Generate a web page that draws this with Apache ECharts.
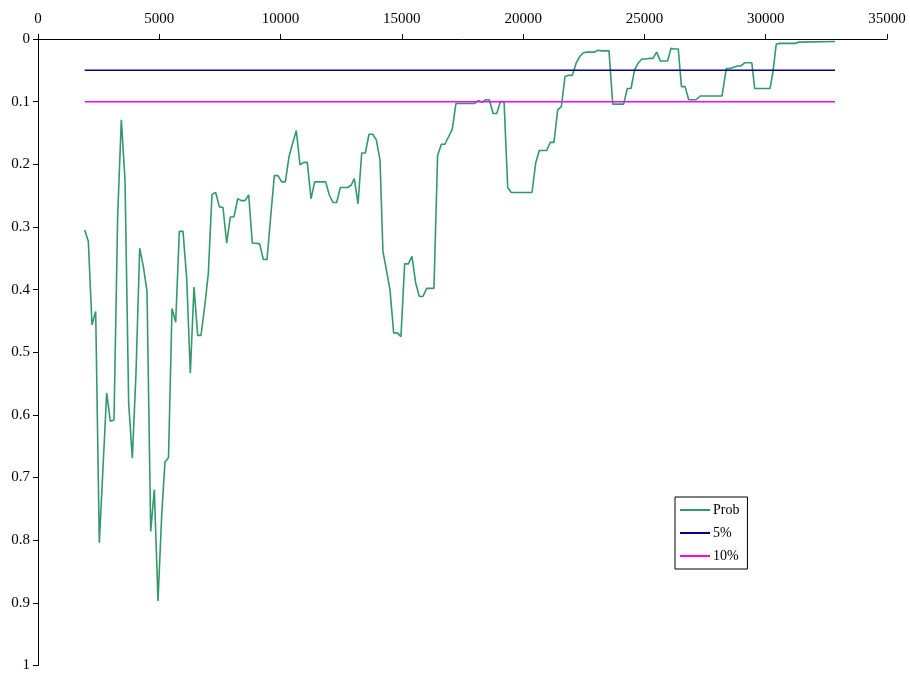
<!DOCTYPE html>
<html>
<head>
<meta charset="utf-8">
<script src="https://cdn.jsdelivr.net/npm/echarts@6/dist/echarts.min.js"></script>
<style>html,body{margin:0;padding:0;background:#fff}#c{width:910px;height:673px}</style>
</head>
<body>
<div id="c"></div>
<script>
const probX = [1925,2075,2226,2378,2528,2831,2981,3133,3285,3435,3587,3738,3888,4040,4192,4342,4494,4646,4795,4947,5100,5234,5380,5524,5676,5827,5978,6130,6280,6431,6584,6720,6872,7022,7173,7326,7476,7627,7780,7929,8080,8233,8383,8534,8687,8836,8988,9140,9289,9441,9594,9743,9894,10047,10196,10347,10500,10649,10801,10953,11102,11254,11407,11556,11708,11860,12009,12161,12313,12463,12614,12767,12916,13040,13193,13345,13494,13646,13798,13947,14099,14220,14360,14510,14662,14814,14963,15115,15267,15416,15568,15720,15869,16021,16173,16322,16474,16626,16775,16927,17079,17228,17380,17530,17680,17830,17990,18158,18304,18458,18609,18759,18911,19061,19213,19364,19513,19665,19815,19965,20115,20365,20517,20666,20818,20970,21119,21271,21424,21575,21725,21878,22027,22179,22331,22481,22633,22786,22935,23087,23239,23388,23540,23693,23843,23993,24143,24294,24447,24596,24748,24900,25049,25201,25353,25502,25654,25804,25954,26094,26245,26395,26526,26676,26826,26976,27126,27296,27446,27596,27746,27896,28046,28196,28377,28527,28677,28827,28977,29127,29277,29427,29546,29727,29877,30027,30177,30300,30432,30583,30733,30883,31033,31207,31360,32857];
const probY = [0.305,0.323,0.456,0.435,0.804,0.565,0.610,0.608,0.281,0.129,0.225,0.581,0.669,0.533,0.334,0.363,0.403,0.786,0.719,0.897,0.76,0.675,0.668,0.430,0.452,0.307,0.307,0.382,0.533,0.396,0.473,0.473,0.427,0.374,0.248,0.245,0.268,0.269,0.326,0.284,0.284,0.255,0.258,0.258,0.249,0.326,0.326,0.327,0.352,0.352,0.283,0.218,0.218,0.228,0.228,0.188,0.166,0.146,0.201,0.197,0.197,0.255,0.228,0.228,0.228,0.228,0.249,0.261,0.261,0.237,0.237,0.237,0.233,0.223,0.263,0.182,0.182,0.152,0.152,0.161,0.193,0.339,0.368,0.400,0.469,0.469,0.475,0.359,0.359,0.347,0.389,0.411,0.411,0.398,0.398,0.398,0.186,0.168,0.168,0.156,0.144,0.103,0.103,0.103,0.103,0.103,0.103,0.098,0.101,0.097,0.097,0.119,0.119,0.100,0.100,0.237,0.245,0.245,0.245,0.245,0.245,0.245,0.198,0.178,0.178,0.178,0.165,0.165,0.113,0.108,0.060,0.058,0.058,0.039,0.028,0.022,0.021,0.021,0.021,0.018,0.019,0.019,0.019,0.104,0.104,0.104,0.104,0.079,0.079,0.049,0.038,0.032,0.032,0.031,0.031,0.021,0.035,0.035,0.035,0.015,0.016,0.016,0.076,0.076,0.097,0.097,0.097,0.091,0.091,0.091,0.091,0.091,0.091,0.091,0.047,0.047,0.045,0.043,0.043,0.038,0.038,0.038,0.079,0.079,0.079,0.079,0.079,0.052,0.0085,0.007,0.007,0.007,0.007,0.007,0.005,0.004];
const refX = [1925, 32857];
const ref5 = [0.05, 0.05];
const ref10 = [0.1, 0.1];
const seriesNames = ['Prob', '5%', '10%'];
const xTicks = {min: 0, max: 35000, interval: 5000};
const yTicks = {min: 0, max: 1, interval: 0.1};

const pair = (xs, ys) => xs.map((x, i) => [x, ys[i]]);
const font = 'Liberation Serif';
const chart = echarts.init(document.getElementById('c'));
chart.setOption({
  animation: false,
  backgroundColor: '#fff',
  grid: {left: 38, top: 39, right: 23, bottom: 7},
  xAxis: {
    type: 'value', position: 'top', min: xTicks.min, max: xTicks.max, interval: xTicks.interval,
    axisLine: {show: true, onZero: false, lineStyle: {color: '#000', width: 1}},
    axisTick: {show: true, inside: false, length: 5, lineStyle: {color: '#000'}},
    axisLabel: {color: '#000', fontFamily: font, fontSize: 15, margin: 12, formatter: v => String(v)},
    splitLine: {show: false}
  },
  yAxis: {
    type: 'value', inverse: true, min: yTicks.min, max: yTicks.max, interval: yTicks.interval,
    axisLine: {show: true, onZero: false, lineStyle: {color: '#000', width: 1}},
    axisTick: {show: true, inside: false, length: 5, lineStyle: {color: '#000'}},
    axisLabel: {color: '#000', fontFamily: font, fontSize: 15, margin: 8, formatter: v => String(+v.toFixed(1))},
    splitLine: {show: false}
  },
  legend: {
    orient: 'vertical', left: 675, top: 497,
    backgroundColor: '#fff', borderColor: '#000', borderWidth: 1,
    padding: [6, 8, 6, 5], itemGap: 9, itemWidth: 30, itemHeight: 2, icon: 'rect',
    textStyle: {color: '#000', fontFamily: font, fontSize: 14, padding: [0, 0, 0, -2]},
    data: seriesNames
  },
  series: [
    {name: seriesNames[0], type: 'line', data: pair(probX, probY), symbol: 'none',
     lineStyle: {color: '#33996B', width: 1.6}, itemStyle: {color: '#33996B'}},
    {name: seriesNames[1], type: 'line', data: pair(refX, ref5), symbol: 'none',
     lineStyle: {color: '#000080', width: 1.5}, itemStyle: {color: '#000080'}},
    {name: seriesNames[2], type: 'line', data: pair(refX, ref10), symbol: 'none',
     lineStyle: {color: '#FF00FF', width: 1.5}, itemStyle: {color: '#FF00FF'}}
  ]
});
</script>
</body>
</html>
